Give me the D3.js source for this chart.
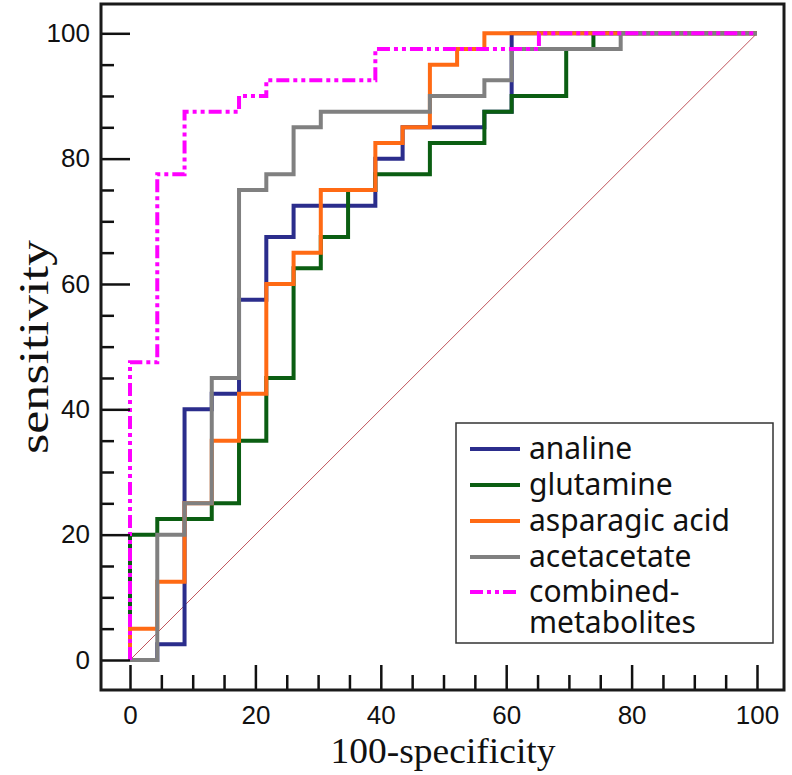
<!DOCTYPE html>
<html>
<head>
<meta charset="utf-8">
<script src="https://cdn.jsdelivr.net/npm/d3@7"></script>
<style>
  html, body { margin: 0; padding: 0; background: #fff; }
  svg { display: block; }
</style>
</head>
<body>
<svg id="chart" width="792" height="775"></svg>
<script>
// ---- data (ROC step vertices) ----
const seriesNames = ["analine", "glutamine", "asparagic acid", "acetacetate", "combined-metabolites"];

const analineX = [0,4.35,4.35,8.7,8.7,13.04,13.04,17.39,17.39,21.74,21.74,26.09,26.09,39.13,39.13,43.48,43.48,56.52,56.52,60.87,60.87,100];
const analineY = [0,0,2.5,2.5,40,40,42.5,42.5,57.5,57.5,67.5,67.5,72.5,72.5,80,80,85,85,87.5,87.5,100,100];

const glutamineX = [0,0,4.35,4.35,13.04,13.04,17.39,17.39,21.74,21.74,26.09,26.09,30.43,30.43,34.78,34.78,39.13,39.13,47.83,47.83,56.52,56.52,60.87,60.87,69.57,69.57,73.91,73.91,100];
const glutamineY = [0,20,20,22.5,22.5,25,25,35,35,45,45,62.5,62.5,67.5,67.5,75,75,77.5,77.5,82.5,82.5,87.5,87.5,90,90,97.5,97.5,100,100];

const asparagicX = [0,0,4.35,4.35,8.7,8.7,13.04,13.04,17.39,17.39,21.74,21.74,26.09,26.09,30.43,30.43,39.13,39.13,43.48,43.48,47.83,47.83,52.17,52.17,56.52,56.52,100];
const asparagicY = [0,5,5,12.5,12.5,25,25,35,35,42.5,42.5,60,60,65,65,75,75,82.5,82.5,85,85,95,95,97.5,97.5,100,100];

const acetacetateX = [0,4.35,4.35,8.7,8.7,13.04,13.04,17.39,17.39,21.74,21.74,26.09,26.09,30.43,30.43,47.83,47.83,56.52,56.52,60.87,60.87,78.26,78.26,100];
const acetacetateY = [0,0,20,20,25,25,45,45,75,75,77.5,77.5,85,85,87.5,87.5,90,90,92.5,92.5,97.5,97.5,100,100];

const combinedX = [0,0,4.35,4.35,8.7,8.7,17.39,17.39,21.74,21.74,39.13,39.13,65.22,65.22,100];
const combinedY = [0,47.5,47.5,77.5,77.5,87.5,87.5,90,90,92.5,92.5,97.5,97.5,100,100];

const xMajorTicks = [0,20,40,60,80,100];
const yMajorTicks = [0,20,40,60,80,100];
const minorTicks = [5,10,15,25,30,35,45,50,55,65,70,75,85,90,95];

// ---- layout / styles ----
const svg = d3.select("#chart");
const x = d3.scaleLinear().domain([0,100]).range([130,757]);
const y = d3.scaleLinear().domain([0,100]).range([660,33.3]);
const frame = {left:101, top:4, right:784, bottom:690};

const colors = ["#2b2d8c", "#0b5e12", "#ff6a14", "#808080", "#ff00ff"];

// diagonal reference line
svg.append("line")
  .attr("x1", x(0)).attr("y1", y(0)).attr("x2", x(100)).attr("y2", y(100))
  .attr("stroke", "#c0545c").attr("stroke-width", 1);

// curves
const seriesData = [
  [analineX, analineY],
  [glutamineX, glutamineY],
  [asparagicX, asparagicY],
  [acetacetateX, acetacetateY],
  [combinedX, combinedY]
];
const line = d3.line().x(d => x(d[0])).y(d => y(d[1]));
seriesData.forEach((s, i) => {
  const pts = s[0].map((v, k) => [v, s[1][k]]);
  svg.append("path")
    .attr("d", line(pts))
    .attr("fill", "none")
    .attr("stroke", colors[i])
    .attr("stroke-width", 4)
    .attr("stroke-linejoin", "miter")
    .attr("stroke-dasharray", i === 4 ? "13,4,4,4,4,4" : null);
});

// axes
const tickFont = "'Liberation Sans', Arial, sans-serif";
function styleAxis(g) {
  g.select(".domain").remove();
  g.selectAll(".tick line").attr("stroke", "#111").attr("stroke-width", 2.5);
  g.selectAll(".tick text").attr("fill", "#111").style("font-family", tickFont).style("font-size", "26px");
}
svg.append("g").attr("transform", `translate(${frame.left},0)`)
  .call(d3.axisLeft(y).tickValues(yMajorTicks).tickSizeInner(-29).tickSizeOuter(0).tickPadding(11))
  .call(styleAxis);
svg.append("g").attr("transform", `translate(${frame.left},0)`)
  .call(d3.axisLeft(y).tickValues(minorTicks).tickSizeInner(-13).tickSizeOuter(0).tickFormat(""))
  .call(styleAxis);
svg.append("g").attr("transform", `translate(0,${frame.bottom})`)
  .call(d3.axisBottom(x).tickValues(xMajorTicks).tickSizeInner(-25).tickSizeOuter(0).tickPadding(16))
  .call(styleAxis);
svg.append("g").attr("transform", `translate(0,${frame.bottom})`)
  .call(d3.axisBottom(x).tickValues(minorTicks).tickSizeInner(-15).tickSizeOuter(0).tickFormat(""))
  .call(styleAxis);

// frame
svg.append("rect")
  .attr("x", frame.left).attr("y", frame.top)
  .attr("width", frame.right - frame.left).attr("height", frame.bottom - frame.top)
  .attr("fill", "none").attr("stroke", "#1a1a1a").attr("stroke-width", 3);

// axis titles
svg.append("text")
  .attr("x", 443).attr("y", 763)
  .attr("text-anchor", "middle")
  .attr("textLength", 225).attr("lengthAdjust", "spacingAndGlyphs")
  .style("font-family", "'Liberation Serif', 'Times New Roman', serif")
  .style("font-size", "35px").attr("fill", "#111")
  .text("100-specificity");
svg.append("text")
  .attr("transform", "translate(48,347) rotate(-90)")
  .attr("text-anchor", "middle")
  .attr("textLength", 214).attr("lengthAdjust", "spacingAndGlyphs")
  .style("font-family", "'Liberation Serif', 'Times New Roman', serif")
  .style("font-size", "43px").attr("fill", "#111")
  .text("sensitivity");

// legend
const legend = svg.append("g");
legend.append("rect")
  .attr("x", 456).attr("y", 423).attr("width", 317).attr("height", 220)
  .attr("fill", "#fff").attr("stroke", "#333").attr("stroke-width", 1.5);
const legRowY = [449, 485, 521, 557, 592];
seriesNames.forEach((name, i) => {
  legend.append("line")
    .attr("x1", 470).attr("x2", 520).attr("y1", legRowY[i]).attr("y2", legRowY[i])
    .attr("stroke", colors[i]).attr("stroke-width", 4)
    .attr("stroke-dasharray", i === 4 ? "13,4,4,4,4,4" : null);
  const parts = name === "combined-metabolites" ? ["combined-", "metabolites"] : [name];
  parts.forEach((p, k) => {
    legend.append("text")
      .attr("x", 529).attr("y", legRowY[i] + k * 31)
      .attr("dy", "0.33em")
      .style("font-family", "'Noto Sans', 'Open Sans', sans-serif")
      .style("font-size", "30px").attr("fill", "#111")
      .text(p);
  });
});
</script>
</body>
</html>
